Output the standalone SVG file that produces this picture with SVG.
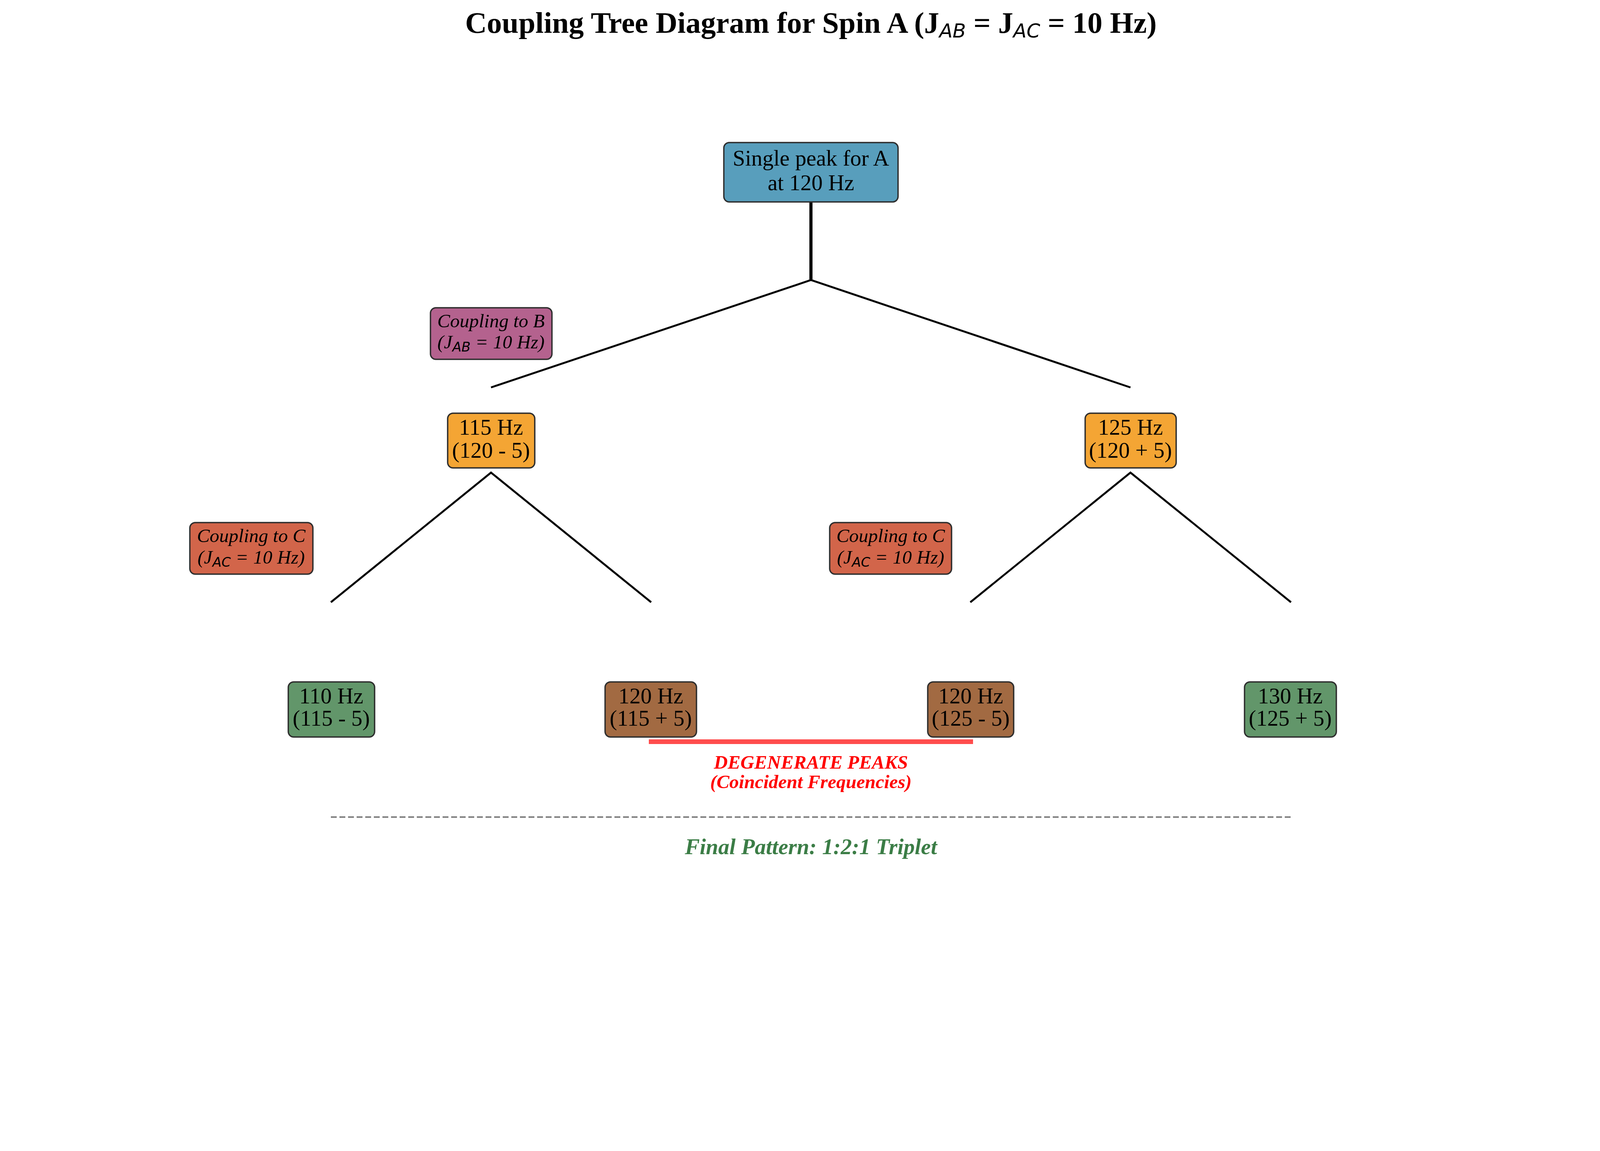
<svg xmlns="http://www.w3.org/2000/svg" width="4152" height="2947" viewBox="0 0 4152 2947">
<style>
text{font-family:"Liberation Serif","Times New Roman",serif;fill:#000}
.node{font-size:57px;text-anchor:middle}
.lab{font-size:49px;font-style:italic;text-anchor:middle}
.sub{font-family:"DejaVu Sans",sans-serif;font-size:34px}
.box{stroke:#2e2e2e;stroke-width:3.5}
.br{stroke:#000;stroke-width:5;fill:none}
</style>
<rect width="4152" height="2947" fill="#fff"/>
<text x="2076" y="84" style="font-size:77px;font-weight:bold;text-anchor:middle">Coupling Tree Diagram for Spin A (J<tspan class="sub" style="font-size:50px;font-style:italic;font-weight:normal" dy="12">AB</tspan><tspan dy="-12"> = J</tspan><tspan class="sub" style="font-size:50px;font-style:italic;font-weight:normal" dy="12">AC</tspan><tspan dy="-12"> = 10 Hz)</tspan></text>
<g id="connectors">
<line x1="2076" y1="517" x2="2076" y2="717" stroke="#000" stroke-width="8"/>
<polyline class="br" points="1257,992 2076,717 2894,992"/>
<polyline class="br" points="847,1542 1257,1210 1667,1542"/>
<polyline class="br" points="2484,1542 2894,1210 3305,1542"/>
<line x1="1661" y1="1899" x2="2491" y2="1899" stroke="#ff4d4d" stroke-width="12"/>
<line x1="847" y1="2092" x2="3305" y2="2092" stroke="#808080" stroke-width="4" stroke-dasharray="15 7"/>
</g>
<g id="root">
<rect class="box" x="1853" y="365" width="446" height="152" rx="14" fill="#589ebc"/>
<text class="node" x="2076" y="424">Single peak for A</text>
<text class="node" x="2076" y="487">at 120 Hz</text>
</g>
<g id="couplingB">
<rect class="box" x="1102" y="788" width="311" height="132" rx="14" fill="#b4628e"/>
<text class="lab" x="1257" y="838">Coupling to B</text>
<text class="lab" x="1257" y="892">(J<tspan class="sub" dy="8">AB</tspan><tspan dy="-8"> = 10 Hz)</tspan></text>
</g>
<g id="n115">
<rect class="box" x="1146" y="1058" width="223" height="140" rx="14" fill="#f4a534"/>
<text class="node" x="1257" y="1113">115 Hz</text>
<text class="node" x="1257" y="1172">(120 - 5)</text>
</g>
<g id="n125">
<rect class="box" x="2778" y="1058" width="233" height="140" rx="14" fill="#f4a534"/>
<text class="node" x="2894" y="1113">125 Hz</text>
<text class="node" x="2894" y="1172">(120 + 5)</text>
</g>
<g id="couplingC1">
<rect class="box" x="486" y="1338" width="315" height="132" rx="14" fill="#d2654a"/>
<text class="lab" x="643" y="1388">Coupling to C</text>
<text class="lab" x="643" y="1443">(J<tspan class="sub" dy="8">AC</tspan><tspan dy="-8"> = 10 Hz)</tspan></text>
</g>
<g id="couplingC2">
<rect class="box" x="2124" y="1338" width="312" height="132" rx="14" fill="#d2654a"/>
<text class="lab" x="2280" y="1388">Coupling to C</text>
<text class="lab" x="2280" y="1443">(J<tspan class="sub" dy="8">AC</tspan><tspan dy="-8"> = 10 Hz)</tspan></text>
</g>
<g id="n110">
<rect class="box" x="738" y="1746" width="221" height="141" rx="14" fill="#62966a"/>
<text class="node" x="848" y="1801">110 Hz</text>
<text class="node" x="848" y="1858">(115 - 5)</text>
</g>
<g id="n120a">
<rect class="box" x="1549" y="1746" width="234" height="141" rx="14" fill="#a26a42"/>
<text class="node" x="1666" y="1801">120 Hz</text>
<text class="node" x="1666" y="1858">(115 + 5)</text>
</g>
<g id="n120b">
<rect class="box" x="2375" y="1746" width="220" height="141" rx="14" fill="#a26a42"/>
<text class="node" x="2485" y="1801">120 Hz</text>
<text class="node" x="2485" y="1858">(125 - 5)</text>
</g>
<g id="n130">
<rect class="box" x="3186" y="1746" width="235" height="141" rx="14" fill="#62966a"/>
<text class="node" x="3303" y="1801">130 Hz</text>
<text class="node" x="3303" y="1858">(125 + 5)</text>
</g>
<g id="degenerate">
<text x="2076" y="1968" style="font-size:49px;font-weight:bold;font-style:italic;text-anchor:middle;fill:#ff0000">DEGENERATE PEAKS</text>
<text x="2076" y="2018" style="font-size:49px;font-weight:bold;font-style:italic;text-anchor:middle;fill:#ff0000">(Coincident Frequencies)</text>
</g>
<g id="final">
<text x="2076" y="2187" style="font-size:57px;font-weight:bold;font-style:italic;text-anchor:middle;fill:#3b7d46">Final Pattern: 1:2:1 Triplet</text>
</g>
</svg>
